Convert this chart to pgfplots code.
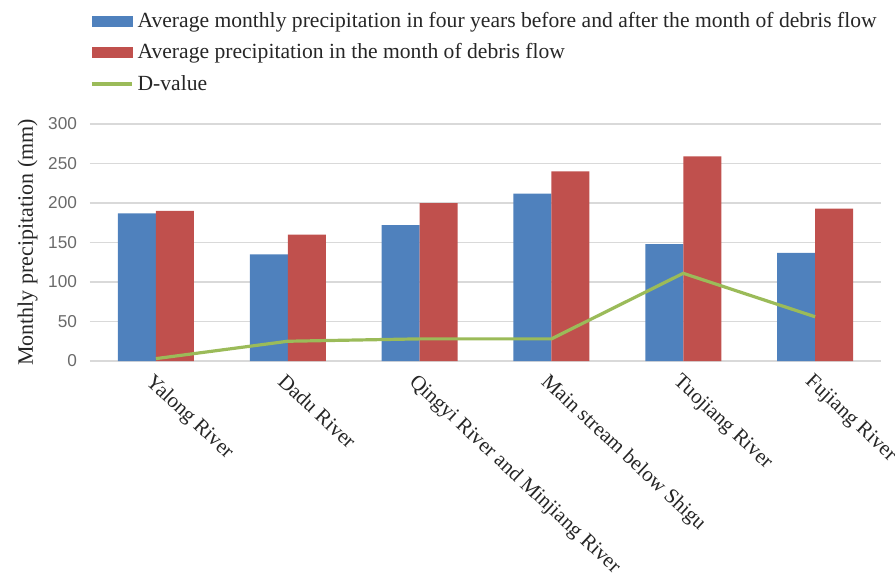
\documentclass[border=0pt]{standalone}
\usepackage{fontspec}
\setmainfont{Liberation Serif}
\newfontfamily\tickfont{Liberation Sans}
\usepackage{pgfplots}
\pgfplotsset{compat=1.18}
\definecolor{barblue}{HTML}{4F81BD}
\definecolor{barred}{HTML}{C0504D}
\definecolor{linegreen}{HTML}{9BBB59}
\definecolor{gridgray}{HTML}{D9D9D9}
\definecolor{ticktext}{HTML}{6A6A6A}
\definecolor{labeltext}{HTML}{262626}

\begin{document}
\begin{tikzpicture}
\useasboundingbox (0,0) rectangle (447.5pt,287pt);
\begin{axis}[
  at={(45pt,106.5pt)}, anchor=south west,
  scale only axis, width=395.5pt, height=118.5pt,
  xmin=-0.5, xmax=5.5, ymin=0, ymax=300,
  ytick={0,50,...,300},
  xtick={0,...,5},
  xticklabels={Yalong River, Dadu River, Qingyi River and Minjiang River, Main stream below Shigu, Tuojiang River, Fujiang River},
  axis line style={draw=none},
  major tick length=0pt,
  ymajorgrids, grid style={gridgray, line width=0.6pt},
  /pgf/number format/assume math mode=true,
  yticklabel style={font=\tickfont\fontsize{8.6}{10}\selectfont, text=ticktext, xshift=-3pt},
  xticklabel style={rotate=-43, anchor=north west, font=\fontsize{10.5}{12}\selectfont, text=labeltext, yshift=-1pt},
  ylabel={Monthly precipitation (mm)},
  ylabel style={at={(axis description cs:-0.079,0.5)}, anchor=center, font=\fontsize{11}{13}\selectfont, text=labeltext},
  legend style={at={(axis description cs:0,1.49)}, anchor=north west, draw=none, fill=none,
    font=\fontsize{10.8}{12.5}\selectfont, text=labeltext, row sep=2.6pt, inner sep=0pt},
  legend cell align=left,
]
% precipitation in the four years around the event month
\addplot[ybar, bar width=19pt, bar shift=-9.5pt, fill=barblue, draw=none, forget plot]
  coordinates {(0,187) (1,135) (2,172) (3,212) (4,148) (5,137)};
% precipitation in the event month
\addplot[ybar, bar width=19pt, bar shift=9.5pt, fill=barred, draw=none, forget plot]
  coordinates {(0,190) (1,160) (2,200) (3,240) (4,259) (5,193)};
% difference between the two
\addplot[sharp plot, linegreen, line width=1.6pt, mark=none, forget plot]
  coordinates {(0,3) (1,25) (2,28) (3,28) (4,111) (5,56)};

\addlegendimage{legend image code/.code={\fill[barblue] (0pt,-2.5pt) rectangle (20pt,2.5pt);}}
\addlegendentry{Average monthly precipitation in four years before and after the month of debris flow}
\addlegendimage{legend image code/.code={\fill[barred] (0pt,-2.5pt) rectangle (20pt,2.5pt);}}
\addlegendentry{Average precipitation in the month of debris flow}
\addlegendimage{legend image code/.code={\draw[linegreen, line width=1.6pt] (0pt,0pt) -- (20pt,0pt);}}
\addlegendentry{D-value}
\end{axis}
\end{tikzpicture}
\end{document}
